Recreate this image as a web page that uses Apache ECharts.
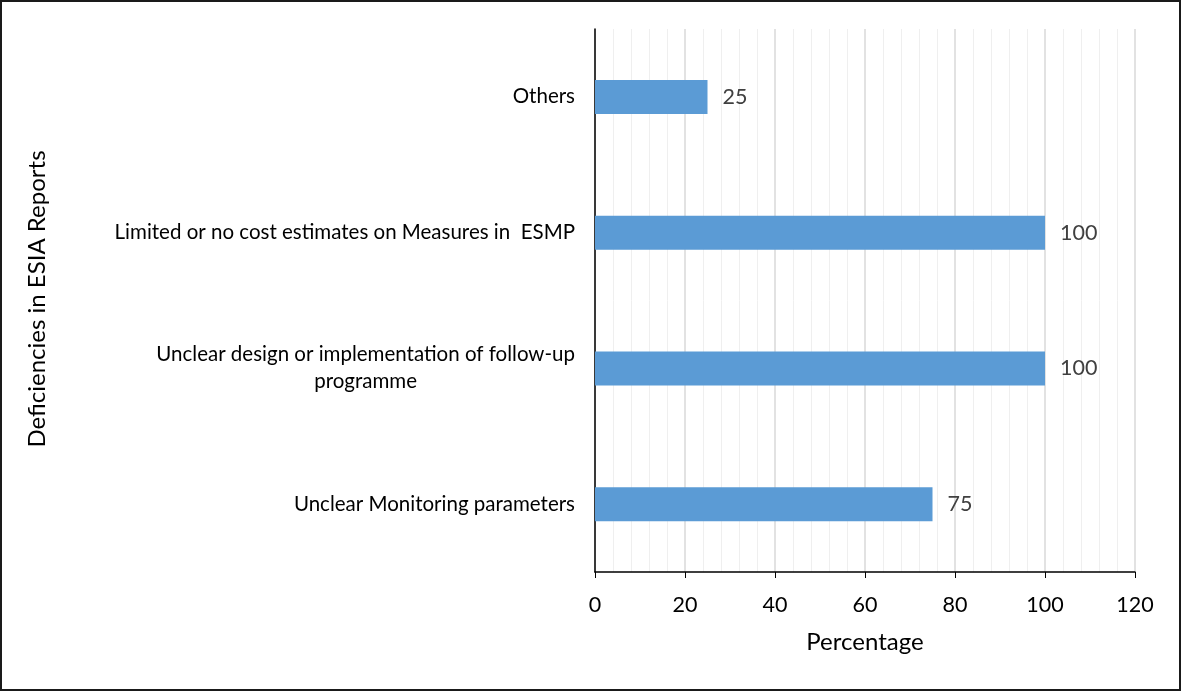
<!DOCTYPE html>
<html>
<head>
<meta charset="utf-8">
<script src="https://cdn.jsdelivr.net/npm/echarts@6/dist/echarts.min.js"></script>
<style>
  html, body { margin: 0; padding: 0; background: #fff; }
  #chart { width: 1182px; height: 692px; }
</style>
</head>
<body>
<div id="chart"></div>
<script>
// categories listed bottom to top, as ECharts draws a category y axis
let categories = [
    'Unclear Monitoring parameters',
    'Unclear design or implementation of follow-up\nprogramme',
    'Limited or no cost estimates on Measures in  ESMP',
    'Others'
];
let percentages = [75, 100, 100, 25];
let xTicks = [0, 20, 40, 60, 80, 100, 120];

let fontName = 'Lato';
let myChart = echarts.init(document.getElementById('chart'));

let option = {
    backgroundColor: '#fff',
    animation: false,
    textStyle: { fontFamily: fontName },
    graphic: [
        {
            type: 'rect',
            shape: { x: 1, y: 1, width: 1179, height: 689 },
            style: { fill: 'none', stroke: '#1a1a1a', lineWidth: 2 }
        },
        {
            // y axis title
            type: 'text',
            x: 37,
            y: 299,
            rotation: Math.PI / 2,
            style: {
                text: 'Deficiencies in ESIA Reports',
                fill: '#000',
                font: '24px ' + fontName,
                align: 'center',
                verticalAlign: 'middle'
            }
        }
    ],
    grid: {
        left: 595,
        right: 47,
        top: 29,
        bottom: 120
    },
    xAxis: {
        type: 'value',
        min: xTicks[0],
        max: xTicks[xTicks.length - 1],
        interval: 20,
        name: 'Percentage',
        nameLocation: 'middle',
        nameGap: 58,
        nameTextStyle: { color: '#000', fontSize: 24, fontFamily: fontName },
        axisLine: { show: true, lineStyle: { color: '#000', width: 1.5 } },
        axisTick: { show: true, length: 6, lineStyle: { color: '#000' } },
        axisLabel: { color: '#000', fontSize: 21.5, margin: 22, fontFamily: fontName },
        splitLine: { show: true, lineStyle: { color: '#d9d9d9', width: 1.5 } },
        minorTick: { show: false, splitNumber: 5 },
        minorSplitLine: { show: true, lineStyle: { color: '#efefef', width: 1 } }
    },
    yAxis: {
        type: 'category',
        data: categories,
        axisLine: { show: true, lineStyle: { color: '#000', width: 1.5 } },
        axisTick: { show: false },
        axisLabel: {
            color: '#000',
            fontSize: 20.5,
            margin: 20,
            fontFamily: fontName,
            lineHeight: 27,
            formatter: function (value) {
                let parts = value.split('\n');
                if (parts.length === 1) return value;
                return '{a|' + parts[0] + '}\n{b|' + parts[1] + '}';
            },
            rich: {
                a: { fontSize: 20.5, color: '#000', fontFamily: fontName, lineHeight: 27 },
                b: { fontSize: 20.5, color: '#000', fontFamily: fontName, lineHeight: 27, align: 'center' }
            }
        }
    },
    series: [{
        type: 'bar',
        data: percentages,
        barWidth: 34,
        itemStyle: { color: '#5b9bd5' },
        label: {
            show: true,
            position: 'right',
            distance: 15,
            color: '#404040',
            fontSize: 21.5,
            fontFamily: fontName
        }
    }]
};

myChart.setOption(option);
window.onresize = function () {
    myChart.resize();
};
</script>
</body>
</html>
